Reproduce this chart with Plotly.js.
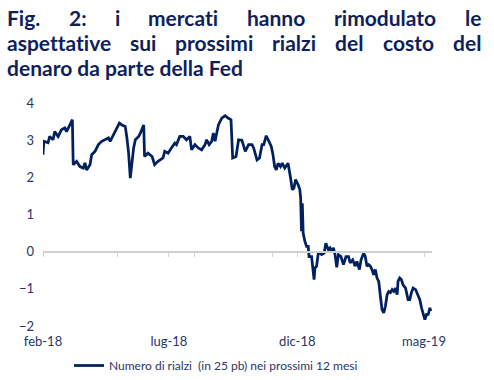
<!DOCTYPE html>
<html><head><meta charset="utf-8">
<script src="https://cdn.plot.ly/plotly-3.0.1.min.js"></script>
<style>html,body{margin:0;padding:0;background:#fff;} #chart{width:494px;height:380px;} text{font-variant-ligatures:none;font-feature-settings:"liga" 0;}</style>
</head><body><div id="chart"></div>
<script>
const dates = ['2018-02-01','2018-02-02','2018-02-07','2018-02-09','2018-02-13','2018-02-15','2018-02-19','2018-02-23','2018-02-27','2018-03-01',
'2018-03-05','2018-03-08','2018-03-09','2018-03-13','2018-03-17','2018-03-21','2018-03-23','2018-03-25','2018-03-29','2018-03-31',
'2018-04-04','2018-04-08','2018-04-12','2018-04-16','2018-04-20','2018-04-22','2018-04-26','2018-04-30','2018-05-03','2018-05-06',
'2018-05-10','2018-05-12','2018-05-14','2018-05-16','2018-05-20','2018-05-22','2018-05-26','2018-05-28','2018-06-01','2018-06-02',
'2018-06-06','2018-06-11','2018-06-14','2018-06-18','2018-06-24','2018-06-26','2018-06-30','2018-07-04','2018-07-08','2018-07-10',
'2018-07-14','2018-07-18','2018-07-22','2018-07-26','2018-07-28','2018-08-01','2018-08-05','2018-08-09','2018-08-13','2018-08-15',
'2018-08-18','2018-08-21','2018-08-23','2018-08-25','2018-08-29','2018-09-02','2018-09-06','2018-09-10','2018-09-13','2018-09-15',
'2018-09-19','2018-09-22','2018-09-26','2018-09-30','2018-10-04','2018-10-08','2018-10-10','2018-10-14','2018-10-17','2018-10-20',
'2018-10-22','2018-10-25','2018-10-29','2018-10-31','2018-11-02','2018-11-04','2018-11-06','2018-11-08','2018-11-11','2018-11-13',
'2018-11-16','2018-11-20','2018-11-23','2018-11-25','2018-11-27','2018-11-29','2018-12-02','2018-12-04','2018-12-05','2018-12-06',
'2018-12-07','2018-12-08','2018-12-10','2018-12-12','2018-12-14','2018-12-15','2018-12-18','2018-12-19','2018-12-21','2018-12-22',
'2018-12-24','2018-12-26','2018-12-28','2018-12-30','2019-01-02','2019-01-04','2019-01-07','2019-01-09','2019-01-11','2019-01-13',
'2019-01-15','2019-01-17','2019-01-19','2019-01-22','2019-01-25','2019-01-28','2019-01-31','2019-02-02','2019-02-05','2019-02-08',
'2019-02-10','2019-02-13','2019-02-15','2019-02-18','2019-02-20','2019-02-22','2019-02-24','2019-02-26','2019-02-28','2019-03-02',
'2019-03-04','2019-03-06','2019-03-08','2019-03-10','2019-03-12','2019-03-14','2019-03-16','2019-03-18','2019-03-20','2019-03-22',
'2019-03-24','2019-03-26','2019-03-28','2019-03-30','2019-03-31','2019-04-02','2019-04-04','2019-04-06','2019-04-09','2019-04-12',
'2019-04-14','2019-04-16','2019-04-18','2019-04-21','2019-04-24','2019-04-26','2019-04-28','2019-04-30','2019-05-02','2019-05-04',
'2019-05-06','2019-05-08','2019-05-09'];
const values = [2.61,2.97,2.93,3.10,3.01,3.23,3.10,3.28,3.33,3.23,
3.41,3.55,2.34,2.43,2.29,2.25,2.39,2.20,2.34,2.61,
2.70,2.88,2.97,3.01,3.06,2.97,3.15,3.32,3.46,3.41,
3.37,3.06,2.65,1.98,2.79,3.01,3.10,3.19,3.41,2.56,
2.65,2.56,2.34,2.43,2.52,2.70,2.65,2.79,2.92,2.88,
3.10,3.10,3.01,3.10,2.74,2.88,2.79,2.74,2.88,3.01,
2.88,2.97,3.19,2.97,3.41,3.59,3.66,3.59,3.55,2.52,
2.56,3.01,3.00,2.70,2.88,2.88,2.79,2.47,2.52,2.88,
2.88,3.12,2.92,2.83,2.61,2.29,2.20,2.38,2.29,2.38,
2.25,2.38,1.98,1.67,1.71,1.94,1.80,1.67,1.44,0.55,
1.30,0.50,0.28,0.14,0.14,-0.13,-0.13,-0.39,-0.75,-0.44,
-0.39,-0.04,-0.04,-0.08,-0.04,0.23,0.05,0.10,0.01,0.10,
-0.08,-0.42,-0.08,-0.13,-0.35,-0.13,-0.13,-0.30,-0.22,-0.39,
-0.26,-0.48,-0.22,-0.04,-0.13,-0.39,-0.35,-0.39,-0.48,-0.62,
-0.48,-0.71,-0.80,-1.20,-1.56,-1.65,-1.47,-1.16,-1.07,-1.10,
-1.02,-1.07,-0.98,-1.16,-0.80,-0.71,-0.75,-0.89,-0.98,-1.29,
-1.29,-1.10,-0.98,-1.02,-1.20,-1.29,-1.51,-1.65,-1.83,-1.69,
-1.69,-1.51,-1.60];
const tickDates = ['2018-02-01','2018-07-01','2018-12-01','2019-05-01'];
const tickLabels = ['feb-18','lug-18','dic-18','mag-19'];
const minorTickDates = ['2018-02-01','2018-05-01','2018-07-01','2018-08-01','2018-11-01','2018-12-01','2019-05-01'];
const yTicks = [-2,-1,0,1,2,3,4];
const seriesName = 'Numero di rialzi  (in 25 pb) nei prossimi 12 mesi';
const titleLines = ['Fig. 2: i mercati hanno rimodulato le','aspettative sui prossimi rialzi del costo del','denaro da parte della Fed'];

const NAVY = '#002060';
const TITLE_COLOR = '#0f1f5c';
const TEXT_COLOR = '#2a3566';
const FONT = 'Lato, "DejaVu Sans", sans-serif';
const TFONT = 'Lato';

// plot area in pixels
const L = 43, R = 432, T = 103, B = 326;
const W = 494, H = 380;
const px2paperX = p => (p - L) / (R - L);
const px2paperY = p => (B - p) / (B - T);

// title layout with canvas measuring (justified lines 1-2)
const cv = document.createElement('canvas').getContext('2d');
function mw(txt, size){ cv.font = 'bold ' + size + 'px ' + TFONT; return cv.measureText(txt).width; }
const leftX = 6, rightX = 480;
let tsize = 100 * (rightX - leftX - 4) / mw(titleLines[1], 100);
tsize = Math.min(tsize, 21);
const annotations = [];
const lineY = [17, 42, 67];
titleLines.forEach((line, i) => {
  const words = line.split(' ');
  if (i < 2) {
    const ws = words.map(w => mw(w, tsize));
    const tot = ws.reduce((a, b) => a + b, 0);
    const gap = (rightX - leftX - tot) / (words.length - 1);
    let x = leftX;
    words.forEach((w, j) => {
      annotations.push({text: w, xref: 'paper', yref: 'paper', x: px2paperX(x - 1), y: px2paperY(lineY[i]),
        xanchor: 'left', yanchor: 'middle', showarrow: false,
        font: {family: FONT, size: tsize, color: TITLE_COLOR, weight: 'bold'}});
      x += ws[j] + gap;
    });
  } else {
    annotations.push({text: line, xref: 'paper', yref: 'paper', x: px2paperX(leftX - 1), y: px2paperY(lineY[i]),
      xanchor: 'left', yanchor: 'middle', showarrow: false,
      font: {family: FONT, size: tsize, color: TITLE_COLOR, weight: 'bold'}});
  }
});

const trace = {
  x: dates, y: values, type: 'scatter', mode: 'lines', name: seriesName,
  line: {color: NAVY, width: 2.75}, xaxis: 'x', yaxis: 'y'
};
// helper (empty) trace so the zero-crossing axis with its tick marks is drawn
const axisTrace = {
  x: minorTickDates, y: minorTickDates.map(() => null), type: 'scatter', mode: 'lines',
  xaxis: 'x2', yaxis: 'y', showlegend: false, hoverinfo: 'skip'
};
const xRange = ['2018-02-01', '2019-05-10 12:00'];
const layout = {
  width: W, height: H,
  margin: {l: L, r: W - R, t: T, b: H - B, autoexpand: false},
  paper_bgcolor: '#fff', plot_bgcolor: '#fff',
  font: {family: FONT, size: 12, color: TEXT_COLOR},
  showlegend: true,
  legend: {orientation: 'h', xref: 'container', yref: 'container', x: 69 / W, y: 1 - 351 / H,
    xanchor: 'left', yanchor: 'top',
    font: {family: FONT, size: 12, color: TEXT_COLOR}, bgcolor: 'rgba(0,0,0,0)'},
  xaxis: {type: 'date', range: xRange, tickmode: 'array', tickvals: tickDates, ticktext: tickLabels,
    showgrid: false, zeroline: false, showline: false, ticks: '', ticklabelstandoff: 6,
    tickfont: {family: FONT, size: 13, color: TEXT_COLOR}},
  xaxis2: {type: 'date', range: xRange, overlaying: 'x', anchor: 'free', position: 1/3, side: 'bottom',
    tickmode: 'array', tickvals: minorTickDates, showticklabels: false, ticks: 'outside', ticklen: 4,
    tickcolor: '#d0d0d0', tickwidth: 1, showline: true, linecolor: '#d0d0d0', linewidth: 2,
    showgrid: false, zeroline: false},
  yaxis: {range: [-2, 4], tickmode: 'array', tickvals: yTicks, showgrid: false, zeroline: false,
    showline: false, ticks: '', ticklabelstandoff: 8,
    tickfont: {family: FONT, size: 13, color: TEXT_COLOR}},
  annotations: annotations
};
Plotly.newPlot('chart', [axisTrace, trace], layout, {displayModeBar: false, staticPlot: true});
</script>
</body></html>
